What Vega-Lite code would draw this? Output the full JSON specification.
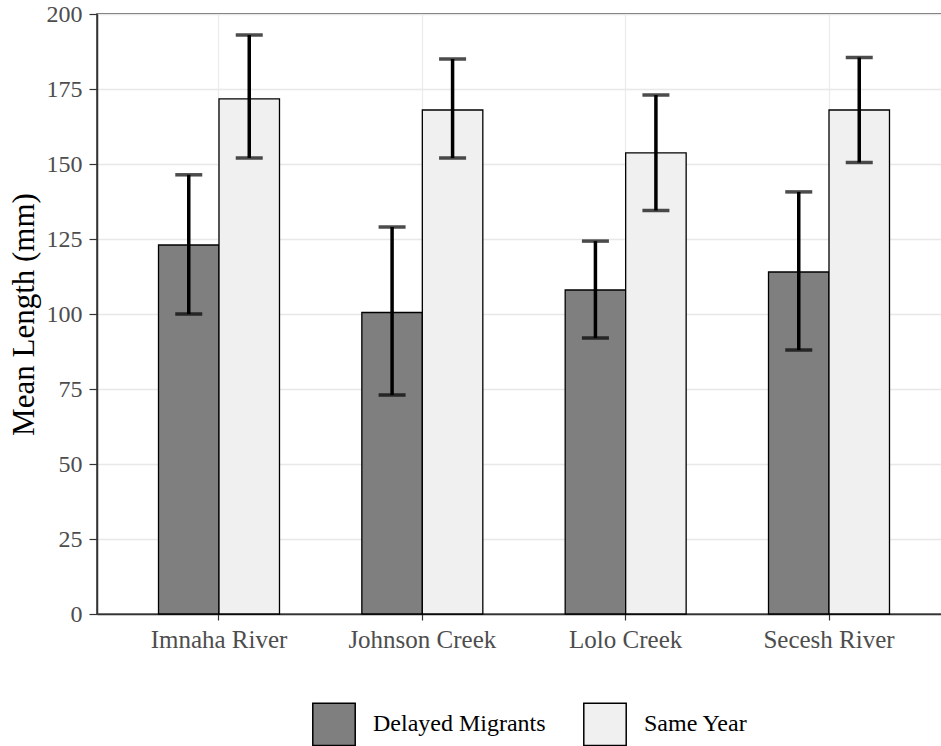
{
  "$schema": "https://vega.github.io/schema/vega-lite/v6.json",
  "autosize": "none",
  "padding": {"left": 97, "top": 14, "right": 0, "bottom": 132},
  "width": 846,
  "height": 600,
  "background": "white",
  "config": {
    "view": {"stroke": "#333333", "strokeWidth": 1.5},
    "font": "Liberation Serif"
  },
  "data": {
    "values": [
      {"site": "Imnaha River", "group": "Delayed Migrants", "mean": 123, "lo": 100, "hi": 146.4},
      {"site": "Imnaha River", "group": "Same Year", "mean": 171.7, "lo": 152, "hi": 193},
      {"site": "Johnson Creek", "group": "Delayed Migrants", "mean": 100.5, "lo": 73, "hi": 129},
      {"site": "Johnson Creek", "group": "Same Year", "mean": 168, "lo": 152, "hi": 185},
      {"site": "Lolo Creek", "group": "Delayed Migrants", "mean": 108, "lo": 92, "hi": 124.3},
      {"site": "Lolo Creek", "group": "Same Year", "mean": 153.7, "lo": 134.5, "hi": 173},
      {"site": "Secesh River", "group": "Delayed Migrants", "mean": 114, "lo": 88, "hi": 140.7},
      {"site": "Secesh River", "group": "Same Year", "mean": 168, "lo": 150.5, "hi": 185.5}
    ]
  },
  "encoding": {
    "x": {
      "field": "site", "type": "nominal", "sort": null,
      "scale": {"paddingInner": 0.405, "paddingOuter": 0.3025, "range": [0, 854]},
      "axis": {
        "title": null, "labelAngle": 0, "labelFont": "Liberation Serif", "labelFontSize": 25,
        "labelColor": "#4d4d4d", "labelPadding": 7, "tickColor": "#333333", "tickSize": 6, "tickWidth": 1.2,
        "domainColor": "#333333", "domainWidth": 1.5,
        "grid": true, "gridColor": "#ebebeb", "gridWidth": 1.2, "bandPosition": 0.5
      }
    },
    "xOffset": {"field": "group", "type": "nominal", "sort": null}
  },
  "layer": [
    {
      "mark": {"type": "bar", "stroke": "black", "strokeWidth": 1.3},
      "encoding": {
        "y": {
          "field": "mean", "type": "quantitative",
          "scale": {"domain": [0, 200], "nice": false, "zero": true},
          "axis": {
            "title": "Mean Length (mm)", "titleFont": "Liberation Serif", "titleFontSize": 31,
            "titleFontWeight": "normal", "titleColor": "black", "titlePadding": 6,
            "values": [0, 12.5, 25, 37.5, 50, 62.5, 75, 87.5, 100, 112.5, 125, 137.5, 150, 162.5, 175, 187.5, 200],
            "labelExpr": "datum.value % 25 === 0 ? datum.label : ''",
            "labelFont": "Liberation Serif", "labelFontSize": 24, "labelColor": "#4d4d4d", "labelPadding": 7,
            "tickColor": "#333333", "tickSize": 8, "tickWidth": 1.2,
            "tickOpacity": {"condition": {"test": "datum.value % 25 === 0", "value": 1}, "value": 0},
            "domainColor": "#333333", "domainWidth": 1.5,
            "grid": true,
            "gridColor": {"condition": {"test": "datum.value % 25 === 0", "value": "#e8e8e8"}, "value": "#f1f1f1"},
            "gridWidth": {"condition": {"test": "datum.value % 25 === 0", "value": 1.3}, "value": 1}
          }
        },
        "fill": {
          "field": "group", "type": "nominal",
          "scale": {"domain": ["Delayed Migrants", "Same Year"], "range": ["#7f7f7f", "#f0f0f0"]},
          "legend": {
            "title": null, "orient": "none", "direction": "horizontal",
            "legendX": 215, "legendY": 688, "padding": 0,
            "symbolType": "square", "symbolSize": 1800, "symbolStrokeColor": "black", "symbolStrokeWidth": 1.5,
            "labelFont": "Liberation Serif", "labelFontSize": 24, "labelColor": "black", "labelLimit": 400,
            "labelOffset": 17, "columnPadding": 34
          }
        }
      }
    },
    {
      "mark": {"type": "rule", "color": "black", "strokeWidth": 3.5},
      "encoding": {
        "y": {"field": "lo", "type": "quantitative"},
        "y2": {"field": "hi"}
      }
    },
    {
      "mark": {"type": "tick", "color": "black", "thickness": 3.5, "size": 27, "orient": "horizontal"},
      "encoding": {"y": {"field": "lo", "type": "quantitative"}}
    },
    {
      "mark": {"type": "tick", "color": "black", "thickness": 3.5, "size": 27, "orient": "horizontal"},
      "encoding": {"y": {"field": "hi", "type": "quantitative"}}
    }
  ]
}
